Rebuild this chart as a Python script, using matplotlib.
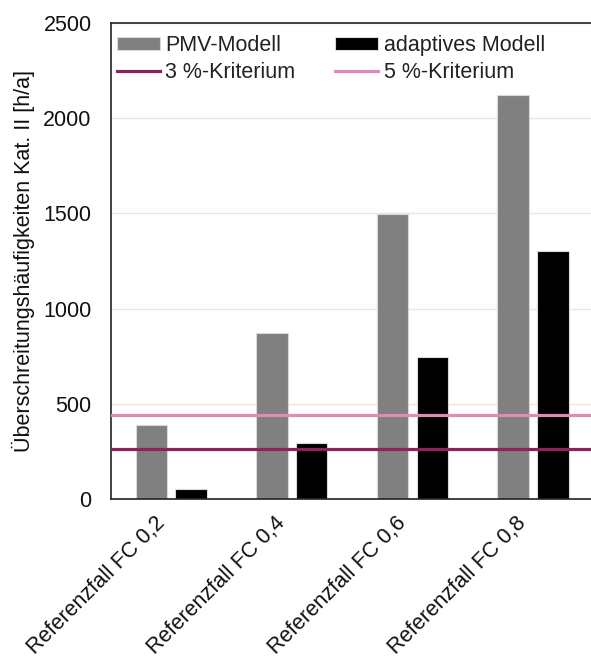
import numpy as np
import matplotlib
matplotlib.use("Agg")
import matplotlib.pyplot as plt
from matplotlib.transforms import ScaledTranslation

plt.rcParams['font.family'] = ['Liberation Sans', 'DejaVu Sans']

# data
categories = ["Referenzfall FC 0,2", "Referenzfall FC 0,4",
              "Referenzfall FC 0,6", "Referenzfall FC 0,8"]
pmv_modell = [390, 870, 1497, 2122]
adaptives_modell = [50, 295, 745, 1300]
kriterium_3 = 263
kriterium_5 = 440
y_ticks = [0, 500, 1000, 1500, 2000, 2500]

fig = plt.figure(figsize=(5.91, 6.63), dpi=100)
ax = fig.add_axes([0.1878, 0.2474, 0.816, 0.7179])

x = np.arange(len(categories))
w = 0.26
b1 = ax.bar(x - 0.165, pmv_modell, w, color='#808080', edgecolor='#d9d9d9',
            linewidth=0.8, label='PMV-Modell', zorder=2)
b2 = ax.bar(x + 0.165, adaptives_modell, w, color='#000000', edgecolor='#d9d9d9',
            linewidth=0.8, label='adaptives Modell', zorder=2)
l3 = ax.axhline(kriterium_3, color='#8c2458', lw=2.3, label='3 %-Kriterium', zorder=3)
l5 = ax.axhline(kriterium_5, color='#e08ab6', lw=2.3, label='5 %-Kriterium', zorder=3)

ax.set_xlim(-0.5, len(categories) - 0.5)
ax.set_ylim(0, 2500)
ax.set_yticks(y_ticks)
ax.set_xticks(x)
ax.set_xticklabels(categories, rotation=45, ha='right', rotation_mode='anchor',
                   fontsize=15.5)
ax.tick_params(axis='both', length=0, labelsize=15.5, colors='#111111')
ax.tick_params(axis='x', pad=10)
ax.tick_params(axis='y', pad=14)
# nudge rotated labels a bit to the left, like the original
shift = ScaledTranslation(-17 / 100, 0, fig.dpi_scale_trans)
for lab in ax.get_xticklabels():
    lab.set_transform(lab.get_transform() + shift)
ax.yaxis.grid(True, color='#e6e6e6', lw=1, zorder=0)
ax.set_axisbelow(True)
for s in ['left', 'top', 'bottom', 'right']:
    ax.spines[s].set_linewidth(1.2)
    ax.spines[s].set_color('#222222')

ax.set_ylabel('Überschreitungshäufigkeiten Kat. II [h/a]', fontsize=15.5,
              color='#111111', labelpad=6)

leg = ax.legend([b1, l3, b2, l5],
                ['PMV-Modell', '3 %-Kriterium', 'adaptives Modell', '5 %-Kriterium'],
                ncol=2, frameon=False, fontsize=15.5, loc='upper left',
                bbox_to_anchor=(-0.028, 1.016), handlelength=2.0, handleheight=0.55,
                handletextpad=0.25, columnspacing=1.85, labelspacing=0.3)
for t in leg.get_texts():
    t.set_color('#222222')

fig.savefig('out.png', dpi=100)
